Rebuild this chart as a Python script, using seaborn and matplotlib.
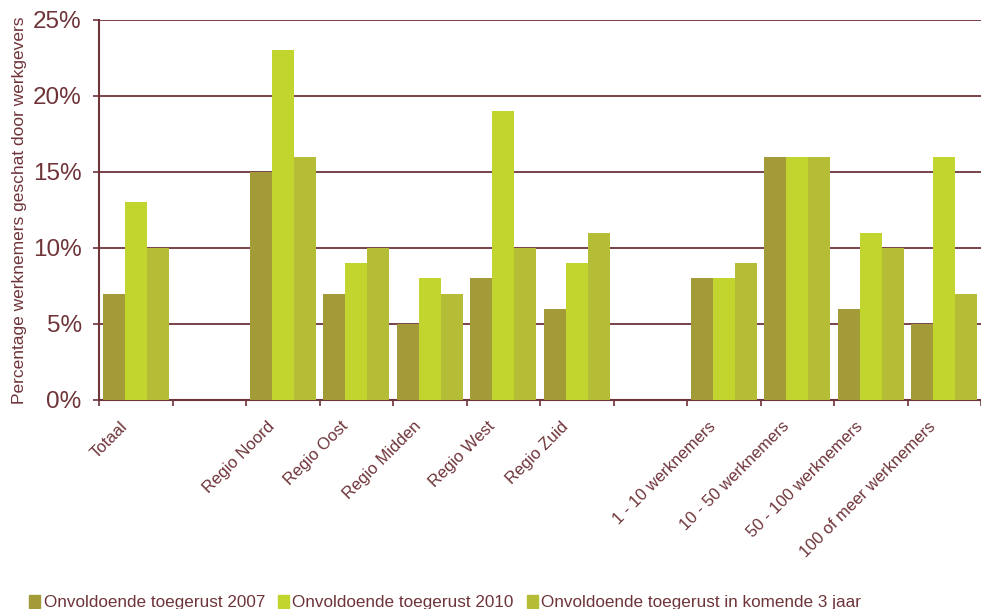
import numpy as np
import pandas as pd
import matplotlib
matplotlib.use("Agg")
import matplotlib.pyplot as plt
import matplotlib.transforms as mtransforms
import seaborn as sns

# Categories (two empty slots separate the groups)
categories = ["Totaal", "", "Regio Noord", "Regio Oost", "Regio Midden", "Regio West",
              "Regio Zuid", " ", "1 - 10 werknemers", "10 - 50 werknemers",
              "50 - 100 werknemers", "100 of meer werknemers"]
series = ["Onvoldoende toegerust 2007", "Onvoldoende toegerust 2010",
          "Onvoldoende toegerust in komende 3 jaar"]
v2007 = [7, np.nan, 15, 7, 5, 8, 6, np.nan, 8, 16, 6, 5]
v2010 = [13, np.nan, 23, 9, 8, 19, 9, np.nan, 8, 16, 11, 16]
v3jaar = [10, np.nan, 16, 10, 7, 10, 11, np.nan, 9, 16, 10, 7]
yticks = [0, 5, 10, 15, 20, 25]

colors = ["#a39a38", "#c2d52f", "#b5bd37"]
maroon = "#6e3439"

rows = []
for s, vals in zip(series, [v2007, v2010, v3jaar]):
    for c, v in zip(categories, vals):
        rows.append({"cat": c, "serie": s, "val": v})
df = pd.DataFrame(rows)

sns.set_theme(style="white")
plt.rcParams["font.family"] = ["Liberation Sans", "DejaVu Sans"]

fig = plt.figure(figsize=(9.81, 6.09), dpi=100)
ax = fig.add_axes([99 / 981, 209 / 609, 1 - 99 / 981, 380 / 609])

sns.barplot(data=df, x="cat", y="val", hue="serie", order=categories,
            hue_order=series, palette=colors, width=0.9, gap=0,
            saturation=1, errorbar=None, ax=ax, legend=False, zorder=3,
            linewidth=0, edgecolor="none")

ax.set_ylim(0, 25)
ax.set_xlim(-0.5, -0.5 + 882 / 74.4)
ax.set_yticks(yticks)
ax.set_yticklabels([f"{t}%" for t in yticks], fontsize=17.5, color=maroon)
for t in yticks[1:]:
    ax.axhline(t, color=maroon, lw=1.3, zorder=1)

# category labels at centres, ticks on boundaries
ax.set_xticks(range(len(categories)))
ax.set_xticklabels(categories, rotation=45, ha="right", rotation_mode="anchor",
                   fontsize=12, color=maroon)
ax.tick_params(axis="x", which="major", length=0, pad=12)
shift = mtransforms.ScaledTranslation(-16 / 100, -2 / 100, fig.dpi_scale_trans)
for lab in ax.get_xticklabels():
    lab.set_transform(lab.get_transform() + shift)
ax.set_xticks(np.arange(-0.5, len(categories), 1), minor=True)
ax.tick_params(axis="x", which="minor", length=4, width=1.2, color=maroon,
               bottom=True, direction="out")
ax.tick_params(axis="y", length=4.5, width=1.2, color=maroon, left=True,
               direction="out", pad=8)

ax.set_xlabel("")
ax.set_ylabel("Percentage werknemers geschat door werkgevers", fontsize=12.5,
              color=maroon, labelpad=4)

for side in ["top", "right"]:
    ax.spines[side].set_visible(False)
for side in ["left", "bottom"]:
    ax.spines[side].set_color(maroon)
    ax.spines[side].set_linewidth(1.5)

handles = [plt.Rectangle((0, 0), 1, 1, color=c) for c in colors]
fig.legend(handles, series, loc="lower left", bbox_to_anchor=(0.014, -0.027),
           ncol=3, frameon=False, fontsize=12.3, handlelength=0.65,
           handleheight=0.8, handletextpad=0.2, columnspacing=0.75,
           labelcolor=maroon)

fig.savefig("out.png", dpi=100)
